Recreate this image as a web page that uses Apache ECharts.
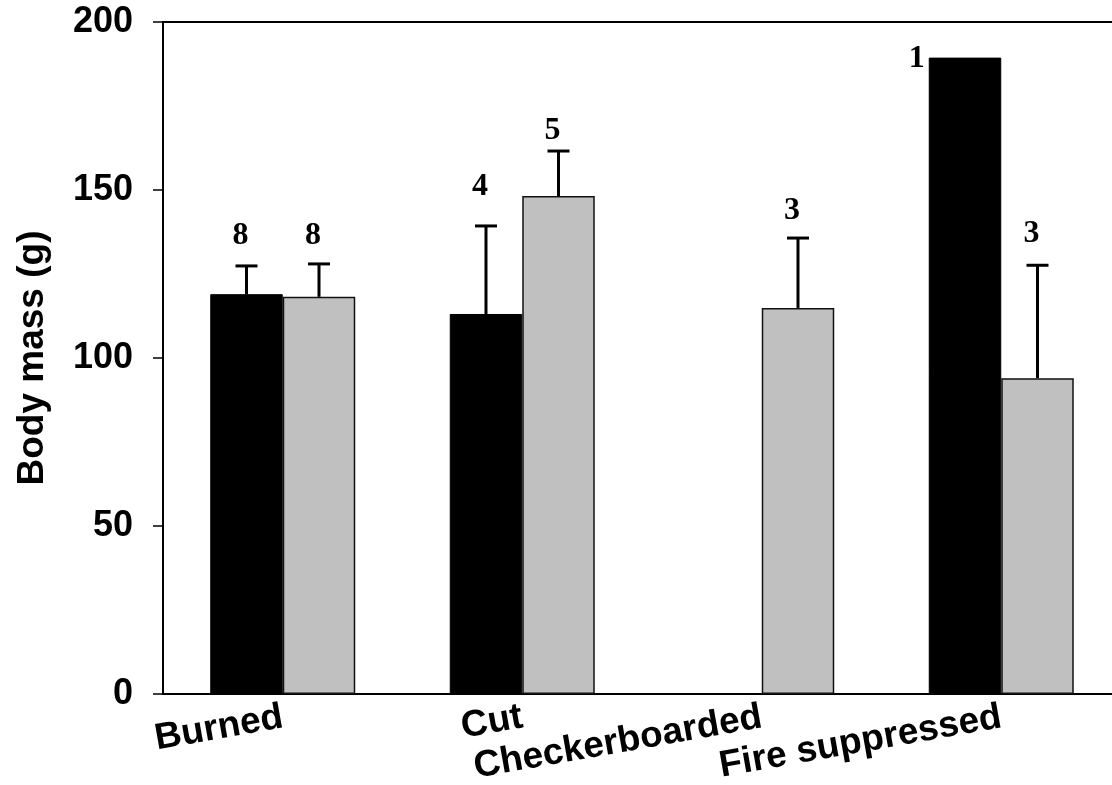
<!DOCTYPE html>
<html>
<head>
<meta charset="utf-8">
<script src="https://cdn.jsdelivr.net/npm/echarts@6/dist/echarts.min.js"></script>
<style>
  html, body { margin: 0; padding: 0; background: #fff; overflow: hidden; width: 1112px; height: 785px; }
  #chart { width: 1112px; height: 785px; position: absolute; left: 0; top: 0; }
</style>
</head>
<body>
<div id="chart"></div>
<script>
// ---- data ----
var categories = ['Burned', 'Cut', 'Checkerboarded', 'Fire suppressed'];
var blackMean = [119.0, 113.1, null, 189.4];
var blackErr  = [8.4, 26.2, null, null];
var blackN    = [8, 4, null, 1];
var blackNLevel = [133.1, 147.6, null, 185.8];
var grayMean = [118.2, 148.2, 114.9, 94.0];
var grayErr  = [9.8, 13.4, 20.8, 33.6];
var grayN    = [8, 5, 3, 3];
var grayNLevel = [133.1, 164.4, 140.6, 133.6];
var yTicks = [0, 50, 100, 150, 200];

// ---- rendering ----
var BAR_W = 72.5;
var chart = echarts.init(document.getElementById('chart'), null, { renderer: 'canvas', width: 1112, height: 785 });

function errData(means, errs) {
  var out = [];
  for (var i = 0; i < means.length; i++) {
    if (means[i] != null && errs[i] != null) out.push([i, means[i], means[i] + errs[i]]);
  }
  return out;
}
function labelData(means, errs, ns, levels) {
  var out = [];
  for (var i = 0; i < ns.length; i++) {
    if (ns[i] != null) out.push([i, levels[i], ns[i], errs[i] == null ? 1 : 0, means[i]]);
  }
  return out;
}
function errRenderer(offset) {
  return function (params, api) {
    var p0 = api.coord([api.value(0), api.value(1)]);
    var p1 = api.coord([api.value(0), api.value(2)]);
    var x = p0[0] + offset;
    var style = { stroke: '#000', lineWidth: 3 };
    return {
      type: 'group',
      children: [
        { type: 'line', shape: { x1: x, y1: p0[1], x2: x, y2: p1[1] }, style: style },
        { type: 'line', shape: { x1: x - 11, y1: p1[1], x2: x + 11, y2: p1[1] }, style: style }
      ]
    };
  };
}
function labelRenderer(offset) {
  return function (params, api) {
    var p = api.coord([api.value(0), api.value(1)]);
    var side = api.value(3);
    var x, align;
    if (side === 1) { x = p[0] + offset - BAR_W / 2 - 4; align = 'right'; }
    else { x = p[0] + offset - 6; align = 'center'; }
    return {
      type: 'text',
      style: {
        text: String(api.value(2)),
        x: x,
        y: p[1] + 5,
        align: align,
        verticalAlign: 'bottom',
        fontSize: 32,
        fontWeight: 'bold',
        fontFamily: '"Liberation Serif", "Times New Roman", serif',
        fill: '#000'
      }
    };
  };
}

var option = {
  backgroundColor: '#fff',
  animation: false,
  grid: { left: 163, right: -9, top: 22, bottom: 91, containLabel: false, outerBoundsMode: 'none' },
  xAxis: [{
    type: 'category',
    data: categories,
    position: 'bottom',
    axisLine: { show: true, lineStyle: { color: '#000', width: 2 } },
    axisTick: { show: false },
    axisLabel: {
      rotate: 10,
      margin: 23,
      interval: 0,
      color: '#000',
      fontFamily: '"Liberation Sans", Arial, sans-serif',
      fontWeight: 'bold',
      fontSize: 37
    },
    splitLine: { show: false }
  }, {
    type: 'category',
    data: categories,
    position: 'top',
    axisLine: { show: true, lineStyle: { color: '#000', width: 2 } },
    axisTick: { show: false },
    axisLabel: { show: false },
    splitLine: { show: false }
  }],
  yAxis: {
    type: 'value',
    min: yTicks[0],
    max: yTicks[yTicks.length - 1],
    interval: yTicks[1] - yTicks[0],
    name: 'Body mass (g)',
    nameLocation: 'middle',
    nameGap: 112,
    nameTextStyle: {
      color: '#000',
      fontFamily: '"Liberation Sans", Arial, sans-serif',
      fontWeight: 'bold',
      fontSize: 37
    },
    axisLine: { show: true, lineStyle: { color: '#000', width: 2 } },
    axisTick: { show: true, inside: false, length: 10, lineStyle: { color: '#000', width: 1.5 } },
    axisLabel: {
      margin: 30,
      color: '#000',
      fontFamily: '"Liberation Sans", Arial, sans-serif',
      fontWeight: 'bold',
      fontSize: 36
    },
    splitLine: { show: false }
  },
  series: [
    {
      type: 'bar',
      data: blackMean.map(function (v) { return v == null ? '-' : v; }),
      barWidth: BAR_W,
      barGap: '0%',
      itemStyle: { color: '#000', borderColor: '#000', borderWidth: 1 },
      z: 2
    },
    {
      type: 'bar',
      data: grayMean.map(function (v) { return v == null ? '-' : v; }),
      barWidth: BAR_W,
      barGap: '0%',
      itemStyle: { color: '#c0c0c0', borderColor: '#111', borderWidth: 1.5 },
      z: 2
    },
    {
      type: 'custom',
      renderItem: errRenderer(-BAR_W / 2),
      data: errData(blackMean, blackErr),
      encode: { x: 0, y: [1, 2] },
      z: 3
    },
    {
      type: 'custom',
      renderItem: errRenderer(BAR_W / 2),
      data: errData(grayMean, grayErr),
      encode: { x: 0, y: [1, 2] },
      z: 3
    },
    {
      type: 'custom',
      renderItem: labelRenderer(-BAR_W / 2),
      data: labelData(blackMean, blackErr, blackN, blackNLevel),
      encode: { x: 0, y: 1 },
      z: 4
    },
    {
      type: 'custom',
      renderItem: labelRenderer(BAR_W / 2),
      data: labelData(grayMean, grayErr, grayN, grayNLevel),
      encode: { x: 0, y: 1 },
      z: 4
    }
  ]
};
chart.setOption(option);
</script>
</body>
</html>
